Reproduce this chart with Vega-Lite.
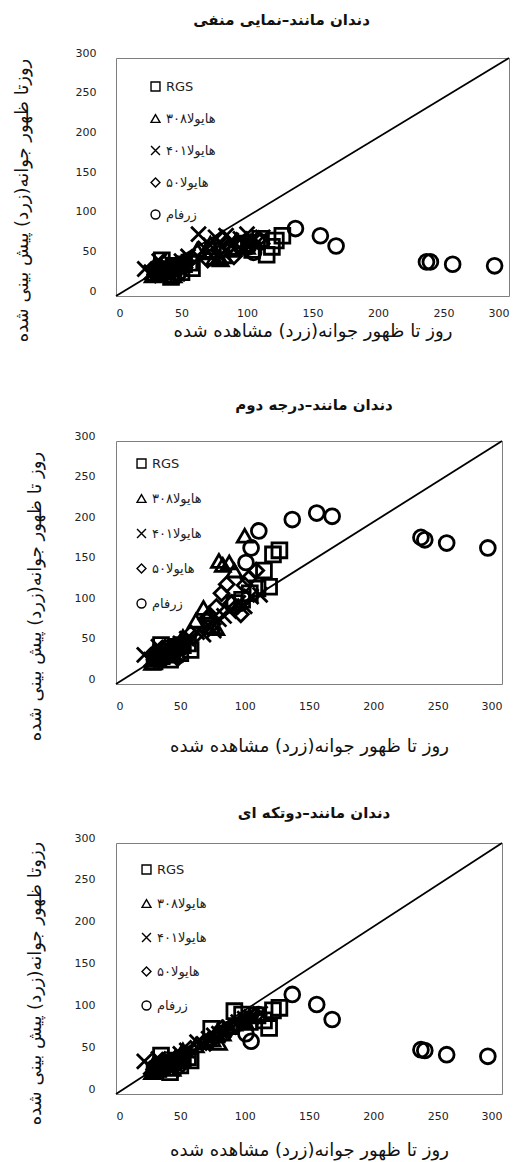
{
  "$schema": "https://vega.github.io/schema/vega-lite/v6.json",
  "background": "white",
  "padding": {"left": 12, "top": 12, "right": 5, "bottom": 2},
  "datasets": {
    "pts": [
      {"c":"RGS","o":30,"p1":28,"p2":28,"p3":28},
      {"c":"RGS","o":33,"p1":30,"p2":32,"p3":30},
      {"c":"RGS","o":35,"p1":45,"p2":48,"p3":46},
      {"c":"RGS","o":36,"p1":32,"p2":36,"p3":33},
      {"c":"RGS","o":40,"p1":34,"p2":40,"p3":36},
      {"c":"RGS","o":42,"p1":24,"p2":30,"p3":26},
      {"c":"RGS","o":44,"p1":36,"p2":44,"p3":38},
      {"c":"RGS","o":48,"p1":38,"p2":46,"p3":40},
      {"c":"RGS","o":50,"p1":30,"p2":38,"p3":34},
      {"c":"RGS","o":52,"p1":40,"p2":48,"p3":42},
      {"c":"RGS","o":56,"p1":42,"p2":50,"p3":44},
      {"c":"RGS","o":58,"p1":35,"p2":42,"p3":40},
      {"c":"RGS","o":74,"p1":58,"p2":72,"p3":78},
      {"c":"RGS","o":92,"p1":62,"p2":100,"p3":99},
      {"c":"RGS","o":98,"p1":66,"p2":104,"p3":95},
      {"c":"RGS","o":104,"p1":58,"p2":112,"p3":86},
      {"c":"RGS","o":110,"p1":72,"p2":118,"p3":94},
      {"c":"RGS","o":115,"p1":52,"p2":140,"p3":88},
      {"c":"RGS","o":119,"p1":62,"p2":120,"p3":79},
      {"c":"RGS","o":122,"p1":70,"p2":160,"p3":100},
      {"c":"RGS","o":127,"p1":76,"p2":165,"p3":103},
      {"c":"هایولا۳۰۸","o":28,"p1":26,"p2":26,"p3":26},
      {"c":"هایولا۳۰۸","o":30,"p1":40,"p2":42,"p3":38},
      {"c":"هایولا۳۰۸","o":32,"p1":28,"p2":30,"p3":29},
      {"c":"هایولا۳۰۸","o":35,"p1":30,"p2":33,"p3":32},
      {"c":"هایولا۳۰۸","o":38,"p1":33,"p2":38,"p3":35},
      {"c":"هایولا۳۰۸","o":42,"p1":35,"p2":42,"p3":38},
      {"c":"هایولا۳۰۸","o":44,"p1":26,"p2":35,"p3":30},
      {"c":"هایولا۳۰۸","o":46,"p1":38,"p2":46,"p3":41},
      {"c":"هایولا۳۰۸","o":50,"p1":40,"p2":52,"p3":44},
      {"c":"هایولا۳۰۸","o":52,"p1":45,"p2":58,"p3":52},
      {"c":"هایولا۳۰۸","o":62,"p1":58,"p2":78,"p3":58},
      {"c":"هایولا۳۰۸","o":68,"p1":55,"p2":94,"p3":62},
      {"c":"هایولا۳۰۸","o":72,"p1":66,"p2":86,"p3":66},
      {"c":"هایولا۳۰۸","o":75,"p1":48,"p2":70,"p3":65},
      {"c":"هایولا۳۰۸","o":78,"p1":47,"p2":69,"p3":70},
      {"c":"هایولا۳۰۸","o":80,"p1":46,"p2":152,"p3":61},
      {"c":"هایولا۳۰۸","o":83,"p1":50,"p2":147,"p3":72},
      {"c":"هایولا۳۰۸","o":88,"p1":58,"p2":150,"p3":80},
      {"c":"هایولا۳۰۸","o":92,"p1":70,"p2":140,"p3":84},
      {"c":"هایولا۳۰۸","o":100,"p1":62,"p2":183,"p3":88},
      {"c":"هایولا۴۰۱","o":22,"p1":34,"p2":36,"p3":39},
      {"c":"هایولا۴۰۱","o":27,"p1":30,"p2":30,"p3":32},
      {"c":"هایولا۴۰۱","o":31,"p1":28,"p2":32,"p3":30},
      {"c":"هایولا۴۰۱","o":33,"p1":44,"p2":46,"p3":42},
      {"c":"هایولا۴۰۱","o":35,"p1":32,"p2":36,"p3":34},
      {"c":"هایولا۴۰۱","o":40,"p1":36,"p2":40,"p3":38},
      {"c":"هایولا۴۰۱","o":45,"p1":40,"p2":45,"p3":42},
      {"c":"هایولا۴۰۱","o":47,"p1":28,"p2":36,"p3":34},
      {"c":"هایولا۴۰۱","o":50,"p1":44,"p2":50,"p3":48},
      {"c":"هایولا۴۰۱","o":55,"p1":50,"p2":56,"p3":52},
      {"c":"هایولا۴۰۱","o":63,"p1":78,"p2":64,"p3":62},
      {"c":"هایولا۴۰۱","o":68,"p1":60,"p2":61,"p3":60},
      {"c":"هایولا۴۰۱","o":72,"p1":64,"p2":72,"p3":66},
      {"c":"هایولا۴۰۱","o":76,"p1":74,"p2":66,"p3":70},
      {"c":"هایولا۴۰۱","o":80,"p1":66,"p2":80,"p3":72},
      {"c":"هایولا۴۰۱","o":84,"p1":76,"p2":84,"p3":76},
      {"c":"هایولا۴۰۱","o":88,"p1":70,"p2":90,"p3":80},
      {"c":"هایولا۴۰۱","o":95,"p1":72,"p2":100,"p3":86},
      {"c":"هایولا۴۰۱","o":100,"p1":78,"p2":96,"p3":90},
      {"c":"هایولا۴۰۱","o":105,"p1":70,"p2":108,"p3":92},
      {"c":"هایولا۴۰۱","o":112,"p1":74,"p2":110,"p3":96},
      {"c":"هایولا۵۰","o":30,"p1":27,"p2":30,"p3":28},
      {"c":"هایولا۵۰","o":34,"p1":30,"p2":34,"p3":31},
      {"c":"هایولا۵۰","o":36,"p1":42,"p2":44,"p3":40},
      {"c":"هایولا۵۰","o":38,"p1":32,"p2":38,"p3":34},
      {"c":"هایولا۵۰","o":42,"p1":35,"p2":42,"p3":38},
      {"c":"هایولا۵۰","o":46,"p1":38,"p2":46,"p3":42},
      {"c":"هایولا۵۰","o":48,"p1":26,"p2":32,"p3":30},
      {"c":"هایولا۵۰","o":50,"p1":40,"p2":50,"p3":45},
      {"c":"هایولا۵۰","o":54,"p1":42,"p2":54,"p3":48},
      {"c":"هایولا۵۰","o":58,"p1":48,"p2":62,"p3":54},
      {"c":"هایولا۵۰","o":70,"p1":46,"p2":80,"p3":62},
      {"c":"هایولا۵۰","o":78,"p1":58,"p2":95,"p3":70},
      {"c":"هایولا۵۰","o":82,"p1":72,"p2":112,"p3":78},
      {"c":"هایولا۵۰","o":86,"p1":62,"p2":123,"p3":76},
      {"c":"هایولا۵۰","o":90,"p1":50,"p2":100,"p3":80},
      {"c":"هایولا۵۰","o":93,"p1":64,"p2":94,"p3":82},
      {"c":"هایولا۵۰","o":97,"p1":66,"p2":86,"p3":86},
      {"c":"هایولا۵۰","o":100,"p1":60,"p2":122,"p3":88},
      {"c":"هایولا۵۰","o":103,"p1":68,"p2":130,"p3":90},
      {"c":"هایولا۵۰","o":109,"p1":72,"p2":140,"p3":94},
      {"c":"زرفام","o":101,"p1":62,"p2":150,"p3":72},
      {"c":"زرفام","o":105,"p1":55,"p2":168,"p3":63},
      {"c":"زرفام","o":111,"p1":68,"p2":189,"p3":95},
      {"c":"زرفام","o":137,"p1":85,"p2":203,"p3":119},
      {"c":"زرفام","o":156,"p1":76,"p2":211,"p3":107},
      {"c":"زرفام","o":168,"p1":63,"p2":207,"p3":89},
      {"c":"زرفام","o":237,"p1":43,"p2":181,"p3":53},
      {"c":"زرفام","o":240,"p1":43,"p2":178,"p3":52},
      {"c":"زرفام","o":257,"p1":40,"p2":174,"p3":47},
      {"c":"زرفام","o":289,"p1":38,"p2":168,"p3":45}
    ],
    "diag": [
      {"o":0,"p1":0,"p2":0,"p3":0},
      {"o":300,"p1":300,"p2":300,"p3":300}
    ]
  },
  "config": {
    "view": {"stroke": "#7f7f7f", "strokeWidth": 1},
    "axis": {
      "grid": false, "ticks": false, "domain": false,
      "labelFont": "DejaVu Sans", "labelFontSize": 11, "labelColor": "#222222",
      "titleFont": "DejaVu Sans", "titleFontSize": 18, "titleFontWeight": "normal", "titleColor": "#111111"
    },
    "title": {"font": "DejaVu Sans", "fontSize": 15, "fontWeight": "bold", "color": "#111111", "anchor": "middle"},
    "legend": {
      "orient": "none", "padding": 0, "symbolSize": 80, "symbolStrokeWidth": 1.4,
      "symbolStrokeColor": "black", "labelFont": "DejaVu Sans", "labelFontSize": 13,
      "labelColor": "#222222", "labelOffset": 4
    }
  },
  "spacing": 145,
  "bounds": "flush",
  "resolve": {"scale": {"shape": "independent"}, "legend": {"shape": "independent"}},
  "vconcat": [
    {
      "width": 393, "height": 238,
      "title": {"text": "دندان مانند–نمایی منفی", "offset": 19, "dx": -31},
      "encoding": {
        "x": {"field": "o", "type": "quantitative", "scale": {"domain": [0, 300], "nice": false},
          "axis": {"values": [0, 50, 100, 150, 200, 250, 300], "labelPadding": 11, "title": "روز تا ظهور جوانه(زرد) مشاهده شده", "titlePadding": 4}},
        "y": {"field": "p1", "type": "quantitative", "scale": {"domain": [0, 300], "nice": false},
          "axis": {"values": [0, 50, 100, 150, 200, 250, 300], "labelPadding": 20, "labelOffset": -5, "title": "روزتا ظهور جوانه(زرد) پیش بینی شده", "titlePadding": 44, "titleY": 142}}
      },
      "layer": [
        {"data": {"name": "diag"}, "mark": {"type": "line", "color": "black", "strokeWidth": 1.8}},
        {"data": {"name": "pts"},
          "mark": {"type": "point", "filled": false, "color": "black", "size": 220, "strokeWidth": 2.8, "opacity": 1},
          "encoding": {
            "shape": {"field": "c", "type": "nominal",
              "scale": {"domain": ["RGS", "هایولا۳۰۸", "هایولا۴۰۱", "هایولا۵۰", "زرفام"], "range": ["square", "triangle-up", "M-1,-1L1,1M1,-1L-1,1", "diamond", "circle"]},
              "legend": {"title": null, "legendX": 33, "legendY": 22, "rowPadding": 17,
                "encode": {"labels": {"fontSize": {"condition": {"test": "datum.value === 'RGS'", "value": 8}, "value": 13}}}}}
          }}
      ]
    },
    {
      "spacing": 159,
      "bounds": "flush",
      "resolve": {"scale": {"shape": "independent"}, "legend": {"shape": "independent"}},
      "vconcat": [
        {
          "width": 386, "height": 243,
          "title": {"text": "دندان مانند–درجه دوم", "offset": 17, "dx": 5},
          "encoding": {
            "x": {"field": "o", "type": "quantitative", "scale": {"domain": [0, 300], "nice": false},
              "axis": {"values": [0, 50, 100, 150, 200, 250, 300], "labelPadding": 16, "title": "روز تا ظهور جوانه(زرد) مشاهده شده", "titlePadding": 26}},
            "y": {"field": "p2", "type": "quantitative", "scale": {"domain": [0, 300], "nice": false},
              "axis": {"values": [0, 50, 100, 150, 200, 250, 300], "labelPadding": 21, "labelOffset": -5, "title": "روز تا ظهور جوانه(زرد) پیش بینی شده", "titlePadding": 30, "titleY": 155}}
          },
          "layer": [
            {"data": {"name": "diag"}, "mark": {"type": "line", "color": "black", "strokeWidth": 1.8}},
            {"data": {"name": "pts"},
              "mark": {"type": "point", "filled": false, "color": "black", "size": 220, "strokeWidth": 2.8, "opacity": 1},
              "encoding": {
                "shape": {"field": "c", "type": "nominal",
                  "scale": {"domain": ["RGS", "هایولا۳۰۸", "هایولا۴۰۱", "هایولا۵۰", "زرفام"], "range": ["square", "triangle-up", "M-1,-1L1,1M1,-1L-1,1", "diamond", "circle"]},
                  "legend": {"title": null, "legendX": 19, "legendY": 16, "rowPadding": 20,
                    "encode": {"labels": {"fontSize": {"condition": {"test": "datum.value === 'RGS'", "value": 8}, "value": 13}}}}}
              }}
          ]
        },
        {
          "width": 386, "height": 251,
          "title": {"text": "دندان مانند–دوتکه ای", "offset": 11, "dx": 5},
          "encoding": {
            "x": {"field": "o", "type": "quantitative", "scale": {"domain": [0, 300], "nice": false},
              "axis": {"values": [0, 50, 100, 150, 200, 250, 300], "labelPadding": 16, "title": "روز تا ظهور جوانه(زرد) مشاهده شده", "titlePadding": 20}},
            "y": {"field": "p3", "type": "quantitative", "scale": {"domain": [0, 300], "nice": false},
              "axis": {"values": [0, 50, 100, 150, 200, 250, 300], "labelPadding": 21, "labelOffset": -5, "title": "رزوتا ظهور جوانه(زرد) پیش بینی شده", "titlePadding": 30, "titleY": 140}}
          },
          "layer": [
            {"data": {"name": "diag"}, "mark": {"type": "line", "color": "black", "strokeWidth": 1.8}},
            {"data": {"name": "pts"},
              "mark": {"type": "point", "filled": false, "color": "black", "size": 220, "strokeWidth": 2.8, "opacity": 1},
              "encoding": {
                "shape": {"field": "c", "type": "nominal",
                  "scale": {"domain": ["RGS", "هایولا۳۰۸", "هایولا۴۰۱", "هایولا۵۰", "زرفام"], "range": ["square", "triangle-up", "M-1,-1L1,1M1,-1L-1,1", "diamond", "circle"]},
                  "legend": {"title": null, "legendX": 24, "legendY": 20, "rowPadding": 19,
                    "encode": {"labels": {"fontSize": {"condition": {"test": "datum.value === 'RGS'", "value": 8}, "value": 13}}}}}
              }}
          ]
        }
      ]
    }
  ]
}
